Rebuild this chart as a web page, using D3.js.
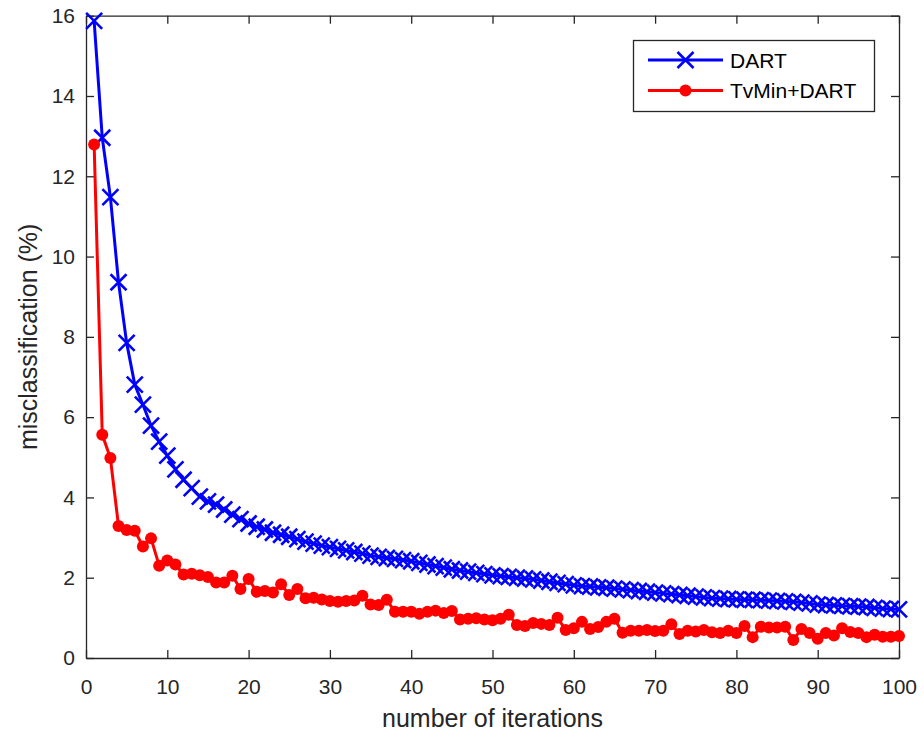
<!DOCTYPE html>
<html>
<head>
<meta charset="utf-8">
<script src="https://cdn.jsdelivr.net/npm/d3@7/dist/d3.min.js"></script>
<style>
  html, body { margin: 0; padding: 0; background: #fff; }
  svg { display: block; font-family: "Liberation Sans", Arial, Helvetica, sans-serif; }
</style>
</head>
<body>
<svg id="chart" width="924" height="742"></svg>
<script>
// Iteration numbers 1..100
const iterations = d3.range(1, 101);

// Misclassification (%) per iteration, plain DART
const dart = [
  15.87, 12.96, 11.48, 9.36, 7.85, 6.81, 6.31, 5.79, 5.39, 5.04,
  4.70, 4.44, 4.23, 4.02, 3.90, 3.82, 3.70, 3.57, 3.46, 3.35,
  3.27, 3.20, 3.12, 3.07, 3.02, 2.96, 2.90, 2.85, 2.80, 2.76,
  2.72, 2.68, 2.64, 2.60, 2.55, 2.52, 2.49, 2.47, 2.44, 2.41,
  2.37, 2.33, 2.29, 2.25, 2.21, 2.18, 2.15, 2.12, 2.09, 2.06,
  2.04, 2.02, 2.00, 1.98, 1.96, 1.93, 1.90, 1.87, 1.84, 1.81,
  1.79, 1.78, 1.76, 1.75, 1.73, 1.71, 1.69, 1.67, 1.65, 1.63,
  1.61, 1.59, 1.57, 1.55, 1.53, 1.51, 1.49, 1.48, 1.47, 1.46,
  1.45, 1.45, 1.44, 1.43, 1.42, 1.41, 1.40, 1.38, 1.36, 1.33,
  1.32, 1.31, 1.30, 1.29, 1.28, 1.27, 1.25, 1.23, 1.22, 1.21
];

// Misclassification (%) per iteration, TvMin followed by DART
const tvminDart = [
  12.79, 5.56, 4.98, 3.29, 3.19, 3.17, 2.78, 2.98, 2.30, 2.43,
  2.33, 2.08, 2.10, 2.06, 2.02, 1.88, 1.88, 2.05, 1.72, 1.97,
  1.65, 1.67, 1.63, 1.84, 1.57, 1.72, 1.49, 1.50, 1.46, 1.42,
  1.40, 1.42, 1.43, 1.55, 1.33, 1.32, 1.45, 1.15, 1.15, 1.15,
  1.10, 1.15, 1.18, 1.12, 1.17, 0.96, 0.98, 0.99, 0.96, 0.94,
  0.98, 1.08, 0.82, 0.80, 0.87, 0.85, 0.82, 1.00, 0.70, 0.74,
  0.90, 0.72, 0.77, 0.90, 0.98, 0.63, 0.68, 0.68, 0.70, 0.67,
  0.68, 0.84, 0.60, 0.68, 0.66, 0.70, 0.64, 0.62, 0.68, 0.62,
  0.80, 0.52, 0.78, 0.76, 0.76, 0.78, 0.45, 0.72, 0.62, 0.48,
  0.62, 0.56, 0.74, 0.65, 0.62, 0.52, 0.58, 0.53, 0.53, 0.55
];

const xTicks = [0, 10, 20, 30, 40, 50, 60, 70, 80, 90, 100];
const yTicks = [0, 2, 4, 6, 8, 10, 12, 14, 16];
const seriesNames = ["DART", "TvMin+DART"];

const svg = d3.select("#chart");
const plot = { left: 86, right: 899, top: 15.7, bottom: 658 };
const axisColor = "#262626";

const x = d3.scaleLinear().domain([0, 100]).range([plot.left, plot.right]);
const y = d3.scaleLinear().domain([0, 16]).range([plot.bottom, plot.top]);

// Axes box with inward ticks on all four sides
const tickLen = 8;
const fontSize = 21;

const gx = svg.append("g").attr("transform", `translate(0,${plot.bottom})`)
  .call(d3.axisBottom(x).tickValues(xTicks).tickSizeInner(-tickLen).tickSizeOuter(0).tickPadding(tickLen + 13));
const gxTop = svg.append("g").attr("transform", `translate(0,${plot.top})`)
  .call(d3.axisTop(x).tickValues(xTicks).tickSizeInner(-tickLen).tickSizeOuter(0).tickFormat(""));
const gy = svg.append("g").attr("transform", `translate(${plot.left},0)`)
  .call(d3.axisLeft(y).tickValues(yTicks).tickSizeInner(-tickLen).tickSizeOuter(0).tickPadding(tickLen + 3));
const gyRight = svg.append("g").attr("transform", `translate(${plot.right},0)`)
  .call(d3.axisRight(y).tickValues(yTicks).tickSizeInner(-tickLen).tickSizeOuter(0).tickFormat(""));

[gx, gxTop, gy, gyRight].forEach(g => {
  g.select(".domain").attr("stroke", axisColor).attr("stroke-width", 1.3);
  g.selectAll(".tick line").attr("stroke", axisColor).attr("stroke-width", 1.3);
  g.selectAll(".tick text")
    .attr("fill", axisColor)
    .style("font-size", fontSize + "px")
    .style("font-family", "'Liberation Sans', Arial, sans-serif");
});

// Axis titles
const titleSize = 25;
svg.append("text")
  .attr("x", (plot.left + plot.right) / 2)
  .attr("y", 727)
  .attr("text-anchor", "middle")
  .attr("fill", axisColor)
  .style("font-size", titleSize + "px")
  .text("number of iterations");

svg.append("text")
  .attr("transform", `translate(37,${(plot.top + plot.bottom) / 2}) rotate(-90)`)
  .attr("text-anchor", "middle")
  .attr("fill", axisColor)
  .style("font-size", titleSize + "px")
  .text("misclassification (%)");

const line = d3.line().x((d, i) => x(iterations[i])).y(d => y(d));

const blue = "#0000ff";
const red = "#ff0000";

// DART series: solid line with x markers
svg.append("path")
  .datum(dart)
  .attr("fill", "none")
  .attr("stroke", blue)
  .attr("stroke-width", 3)
  .attr("stroke-linejoin", "round")
  .attr("d", line);

const xMark = 8;
svg.append("g").selectAll("path")
  .data(dart)
  .join("path")
  .attr("transform", (d, i) => `translate(${x(iterations[i])},${y(d)})`)
  .attr("d", `M${-xMark},${-xMark}L${xMark},${xMark}M${-xMark},${xMark}L${xMark},${-xMark}`)
  .attr("stroke", blue)
  .attr("stroke-width", 2.6)
  .attr("fill", "none");

// TvMin+DART series: solid line with dot markers
svg.append("path")
  .datum(tvminDart)
  .attr("fill", "none")
  .attr("stroke", red)
  .attr("stroke-width", 3)
  .attr("stroke-linejoin", "round")
  .attr("d", line);

const dotR = 6;
svg.append("g").selectAll("circle")
  .data(tvminDart)
  .join("circle")
  .attr("cx", (d, i) => x(iterations[i]))
  .attr("cy", d => y(d))
  .attr("r", dotR)
  .attr("fill", red);

// Legend
const legend = svg.append("g");
legend.append("rect")
  .attr("x", 633.5).attr("y", 40.5)
  .attr("width", 241).attr("height", 71)
  .attr("fill", "#fff")
  .attr("stroke", axisColor)
  .attr("stroke-width", 1.3);

const legendRows = [
  { name: seriesNames[0], color: blue, marker: "x", cy: 60 },
  { name: seriesNames[1], color: red, marker: "dot", cy: 90.5 }
];
legendRows.forEach(r => {
  legend.append("line")
    .attr("x1", 648).attr("x2", 723)
    .attr("y1", r.cy).attr("y2", r.cy)
    .attr("stroke", r.color).attr("stroke-width", 3);
  const mx = 685.5;
  if (r.marker === "x") {
    legend.append("path")
      .attr("transform", `translate(${mx},${r.cy})`)
      .attr("d", `M${-xMark},${-xMark}L${xMark},${xMark}M${-xMark},${xMark}L${xMark},${-xMark}`)
      .attr("stroke", r.color).attr("stroke-width", 2.6).attr("fill", "none");
  } else {
    legend.append("circle")
      .attr("cx", mx).attr("cy", r.cy).attr("r", dotR).attr("fill", r.color);
  }
  legend.append("text")
    .attr("x", 730).attr("y", r.cy)
    .attr("dy", "0.36em")
    .attr("fill", "#000")
    .style("font-size", "21px")
    .text(r.name);
});
</script>
</body>
</html>
